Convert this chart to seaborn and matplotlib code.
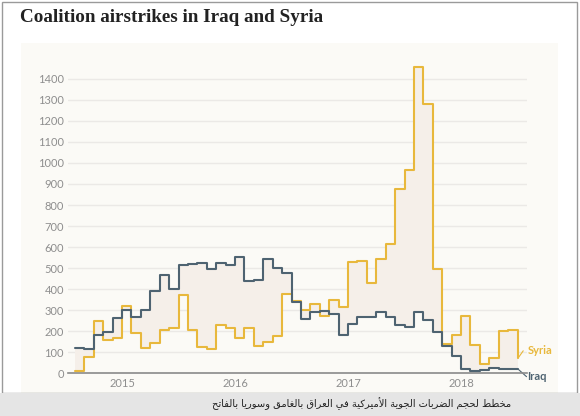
import matplotlib
matplotlib.use("Agg")
import matplotlib.pyplot as plt
from matplotlib.patches import Rectangle
import seaborn as sns
import pandas as pd
import numpy as np

# ---------------- data (monthly strikes, Aug 2014 .. Jun 2018, plus end value) ----------------
iraq = [118, 114, 183, 196, 263,
        300, 266, 300, 390, 468, 402, 516, 520, 524, 497, 524, 513,
        552, 438, 445, 544, 500, 478, 337, 258, 293, 295, 282, 184,
        233, 268, 266, 292, 268, 229, 221, 292, 253, 195, 130, 80,
        19, 13, 18, 24, 22, 20,
        20]
syria = [11, 78, 250, 160, 166,
         321, 193, 122, 143, 205, 216, 371, 208, 126, 114, 232, 216,
         166, 216, 129, 148, 177, 376, 343, 300, 331, 272, 347, 315,
         528, 536, 430, 545, 613, 878, 965, 1458, 1280, 494, 138, 182,
         274, 136, 46, 75, 200, 204,
         72]
year_ticks = [5, 17, 29, 41]
year_labels = ["2015", "2016", "2017", "2018"]
y_ticks = list(range(0, 1500, 100))
series_names = ["Syria", "Iraq"]
title = "Coalition airstrikes in Iraq and Syria"
caption = "مخطط لحجم الضربات الجوية الأميركية في العراق بالغامق وسوريا بالفاتح"

# ---------------- colours ----------------
C_SYRIA = "#e8b83c"
C_IRAQ = "#4e6371"
C_FILL = "#f5efe9"
C_PANEL = "#fbfaf6"
C_GRID = "#ebe9e6"
C_TICK = "#8e8e8e"

# ---------------- arabic shaping (matplotlib has no complex text layout) ----------------
FORMS = {
    '\u0627': ('\uFE8D', '\uFE8E', None, None),
    '\u0623': ('\uFE83', '\uFE84', None, None),
    '\u0625': ('\uFE87', '\uFE88', None, None),
    '\u0622': ('\uFE81', '\uFE82', None, None),
    '\u0628': ('\uFE8F', '\uFE90', '\uFE91', '\uFE92'),
    '\u0629': ('\uFE93', '\uFE94', None, None),
    '\u062A': ('\uFE95', '\uFE96', '\uFE97', '\uFE98'),
    '\u062C': ('\uFE9D', '\uFE9E', '\uFE9F', '\uFEA0'),
    '\u062D': ('\uFEA1', '\uFEA2', '\uFEA3', '\uFEA4'),
    '\u062E': ('\uFEA5', '\uFEA6', '\uFEA7', '\uFEA8'),
    '\u062F': ('\uFEA9', '\uFEAA', None, None),
    '\u0631': ('\uFEAD', '\uFEAE', None, None),
    '\u0633': ('\uFEB1', '\uFEB2', '\uFEB3', '\uFEB4'),
    '\u0636': ('\uFEBD', '\uFEBE', '\uFEBF', '\uFEC0'),
    '\u0637': ('\uFEC1', '\uFEC2', '\uFEC3', '\uFEC4'),
    '\u0639': ('\uFEC9', '\uFECA', '\uFECB', '\uFECC'),
    '\u063A': ('\uFECD', '\uFECE', '\uFECF', '\uFED0'),
    '\u0641': ('\uFED1', '\uFED2', '\uFED3', '\uFED4'),
    '\u0642': ('\uFED5', '\uFED6', '\uFED7', '\uFED8'),
    '\u0643': ('\uFED9', '\uFEDA', '\uFEDB', '\uFEDC'),
    '\u0644': ('\uFEDD', '\uFEDE', '\uFEDF', '\uFEE0'),
    '\u0645': ('\uFEE1', '\uFEE2', '\uFEE3', '\uFEE4'),
    '\u0648': ('\uFEED', '\uFEEE', None, None),
    '\u064A': ('\uFEF1', '\uFEF2', '\uFEF3', '\uFEF4'),
}
LAM_ALEF = {'\u0627': ('\uFEFB', '\uFEFC'), '\u0623': ('\uFEF7', '\uFEF8'),
            '\u0625': ('\uFEF9', '\uFEFA'), '\u0622': ('\uFEF5', '\uFEF6')}


def shape_arabic(s):
    try:
        import arabic_reshaper
        from bidi.algorithm import get_display
        return get_display(arabic_reshaper.reshape(s))
    except Exception:
        pass
    out = []
    i, n = 0, len(s)
    while i < n:
        c = s[i]
        if c not in FORMS:
            out.append(c)
            i += 1
            continue
        prev_j = i > 0 and s[i - 1] in FORMS and FORMS[s[i - 1]][2] is not None
        if c == '\u0644' and i + 1 < n and s[i + 1] in LAM_ALEF:
            iso, fin = LAM_ALEF[s[i + 1]]
            out.append(fin if prev_j else iso)
            i += 2
            continue
        iso, fin, ini, med = FORMS[c]
        fwd = ini is not None and i + 1 < n and s[i + 1] in FORMS
        if prev_j and fwd:
            out.append(med)
        elif prev_j:
            out.append(fin)
        elif fwd:
            out.append(ini)
        else:
            out.append(iso)
        i += 1
    return ''.join(reversed(out))


# ---------------- build data frame ----------------
n = len(iraq)
month_idx = np.arange(n)
df = pd.DataFrame({
    "month": np.concatenate([month_idx, month_idx]),
    "strikes": syria + iraq,
    "series": ["Syria"] * n + ["Iraq"] * n,
})

sns.set_style("white")
plt.rcParams["font.family"] = ["Lato", "DejaVu Sans"]

W, H = 580, 416
fig = plt.figure(figsize=(W / 100, H / 100), dpi=100)
fig.patch.set_facecolor("white")

# cream panel & frame & caption bar (figure coords)
fig.patches.append(Rectangle((21 / W, 1 - 393 / H), (558 - 21) / W, (393 - 43) / H,
                             transform=fig.transFigure, facecolor=C_PANEL, edgecolor="none", zorder=-3))
fig.patches.append(Rectangle((1.5 / W, 1 - 393 / H), (577 - 1.5) / W, (393 - 1.5) / H,
                             transform=fig.transFigure, facecolor="none", edgecolor="#9a9a9a",
                             linewidth=1.0, zorder=-2))
fig.patches.append(Rectangle((0, 0), 1, 23 / H, transform=fig.transFigure,
                             facecolor="#e5e5e5", edgecolor="none", zorder=-1))

ax = fig.add_axes([68 / W, 1 - 373.3 / H, (527 - 68) / W, (373.3 - 62) / H])
ax.set_facecolor("none")
ax.set_zorder(2)

ax.fill_between(month_idx, syria, iraq, step="post", color=C_FILL, linewidth=0, zorder=1)
sns.lineplot(data=df, x="month", y="strikes", hue="series", hue_order=series_names,
             palette=[C_SYRIA, C_IRAQ], drawstyle="steps-post", linewidth=1.5,
             legend=False, ax=ax, zorder=3, estimator=None)

ax.set_xlim(-0.74, 48.0)
ax.set_ylim(0, 1480)
ax.set_yticks(y_ticks)
ax.set_yticklabels([str(v) for v in y_ticks])
ax.set_xticks(year_ticks)
ax.set_xticklabels(year_labels)
ax.tick_params(axis="both", length=0, colors=C_TICK, labelsize=8)
ax.tick_params(axis="y", pad=3)
ax.tick_params(axis="x", pad=3.5)
ax.set_xlabel("")
ax.set_ylabel("")
ax.grid(axis="y", color=C_GRID, linewidth=1.0, zorder=0)
ax.grid(axis="x", visible=False)
ax.set_axisbelow(True)
for side in ["top", "right", "left"]:
    ax.spines[side].set_visible(False)
ax.spines["bottom"].set_color("#8a8a8a")
ax.spines["bottom"].set_linewidth(1.2)
ax.spines["bottom"].set_zorder(2)

# series labels with small connectors
end = n - 1
ax.plot([end + 0.05, end + 0.6], [syria[-1], syria[-1] + 35], color=C_SYRIA, lw=0.8, clip_on=False)
ax.text(end + 1.05, syria[-1] + 36, "Syria", color=C_SYRIA, fontsize=8, fontweight="bold",
        va="center", ha="left", clip_on=False)
ax.plot([end + 0.05, end + 0.95], [iraq[-1], -16], color=C_IRAQ, lw=0.8, clip_on=False)
ax.text(end + 1.05, -16, "Iraq", color=C_IRAQ, fontsize=8, fontweight="bold",
        va="center", ha="left", clip_on=False)

# title
fig.text(20 / W, 1 - 18 / H, title, fontsize=13.8, fontweight="bold", color="#222222",
         family=["Liberation Serif", "DejaVu Serif"], ha="left", va="center")

# caption
fig.text(511 / W, 1 - 404 / H, shape_arabic(caption), fontsize=7.1, color="#222222",
         family=["DejaVu Sans"], ha="right", va="center", zorder=5)

fig.savefig("out.png", dpi=100, facecolor="white")
